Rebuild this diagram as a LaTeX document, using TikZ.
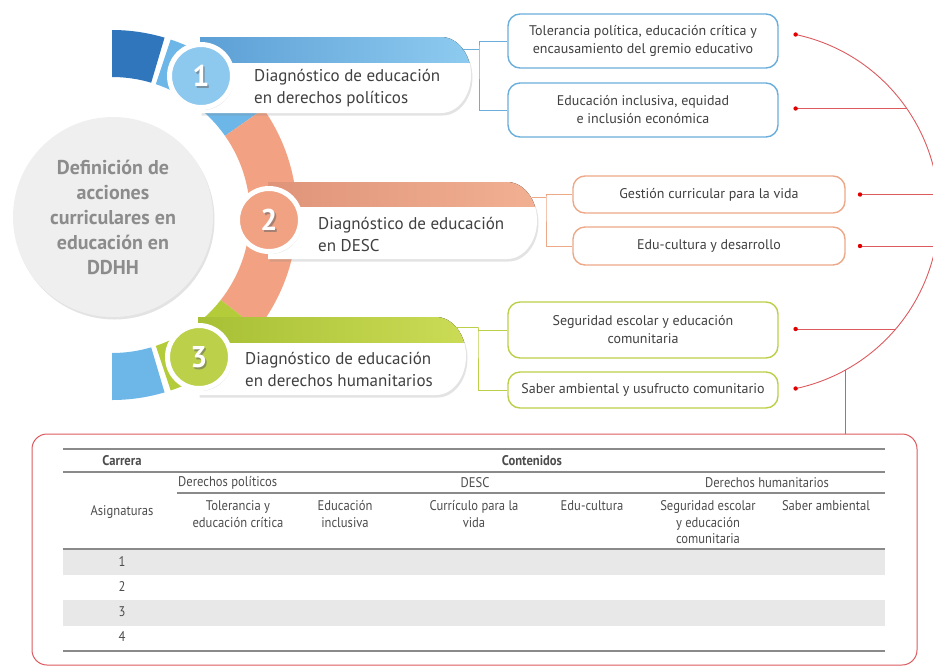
\documentclass[tikz,border=0pt]{standalone}
\usepackage{fontspec}
\setmainfont{PT Sans}
\newfontfamily\tabfont[FakeStretch=0.9]{PT Sans}
\usetikzlibrary{shadows,calc}

\definecolor{ringblue}{HTML}{2F76BD}
\definecolor{ringlight}{HTML}{6DB7E8}
\definecolor{ringorange}{HTML}{F2A282}
\definecolor{ringgreen}{HTML}{B5CC3A}
\definecolor{polA}{HTML}{5C9FD5}
\definecolor{polB}{HTML}{8ECBF0}
\definecolor{descA}{HTML}{DF9479}
\definecolor{descB}{HTML}{F2B092}
\definecolor{humA}{HTML}{A7C035}
\definecolor{humB}{HTML}{CBDB55}
\definecolor{circblue}{HTML}{8DC8EE}
\definecolor{circorange}{HTML}{F0A283}
\definecolor{circgreen}{HTML}{BCD04A}
\definecolor{polline}{HTML}{6AAEDB}
\definecolor{descline}{HTML}{EDA888}
\definecolor{humline}{HTML}{BDCF48}
\definecolor{linkred}{HTML}{DC5A5E}
\definecolor{dotred}{HTML}{E00000}
\definecolor{txt}{HTML}{404040}
\definecolor{titlegray}{HTML}{8C8C8C}
\definecolor{corefill}{HTML}{EFEFEF}
\definecolor{stripe}{HTML}{E8E8E8}
\definecolor{rulegray}{HTML}{8A8A8A}

\tikzset{
  softshadow/.style={drop shadow={opacity=0.22,shadow xshift=1.5pt,shadow yshift=-2.5pt}},
}

% one piece of the big ring: colour, from angle, to angle
\newcommand{\ringpiece}[3]{%
  \fill[#1] ($(ringc)+(-#2:138)$) arc[start angle=-#2,end angle=-#3,radius=138]
    -- ($(ringc)+(-#3:185)$) arc[start angle=-#3,end angle=-#2,radius=185] -- cycle;}

\begin{document}
\begin{tikzpicture}[
    x=1pt, y=-1pt,
    item/.style={draw=#1, line width=1.4pt, rounded corners=12pt, fill=white,
      minimum width=270pt, align=center, inner sep=0pt, text=txt,
      font=\fontsize{14}{18}\selectfont},
    link/.style={draw=#1, line width=1pt},
    redlink/.style={draw=linkred, line width=0.9pt},
    bannertext/.style={anchor=west, align=left, text=txt, inner sep=0pt,
      font=\fontsize{17}{22}\selectfont},
    numdisk/.style={circle, draw=white, line width=5pt, minimum size=63pt, softshadow},
    digit/.style={text=white, font=\fontsize{30}{30}\selectfont\bfseries},
    digitshade/.style={text=black!60, opacity=0.55, font=\fontsize{30}{30}\selectfont\bfseries},
    tabtext/.style={align=center, inner sep=0pt, text=black!70,
      font=\tabfont\fontsize{14}{16.5}\selectfont},
    tabhead/.style={tabtext, font=\tabfont\fontsize{14}{16.5}\selectfont\bfseries}
    ]
    \useasboundingbox (0,0) rectangle (933,667);

    % centre and ring
    \node[circle, fill=corefill, minimum size=200pt, softshadow, align=center,
      text=titlegray, font=\fontsize{20}{25}\selectfont\bfseries] (core) at (113,217)
      {Definición de\\acciones\\curriculares en\\educación en\\DDHH};
    \coordinate (ringc) at (112,215);
    \ringpiece{ringblue}{90}{73.5}
    \ringpiece{ringlight}{71.5}{35}
    \ringpiece{ringorange}{35}{-38}
    \ringpiece{ringgreen}{-38}{-71.5}
    \ringpiece{ringlight}{-73.5}{-90}

    % banners
    \foreach \l/\t/\r/\b/\m/\ca/\cb in {200/37/471/113/62/polA/polB,
        268/182/537/259/206/descA/descB, 198/317/466/395/342/humA/humB}{
      \pgfmathsetmacro\cy{(\t+\b)/2}
      \pgfmathsetmacro\k{0.552*(\b-\t)/2}
      \fill[white, softshadow] (\l,\t) -- (\r-30,\t) .. controls (\r-13.4,\t) and (\r,\cy-\k) .. (\r,\cy)
        .. controls (\r,\cy+\k) and (\r-13.4,\b) .. (\r-30,\b) -- (\l,\b) -- cycle;
      \begin{scope}
        \clip (\l-5,\t-5) rectangle (\r+5,\m);
        \fill[left color=\ca, right color=\cb] (\l,\t) -- (\r-30,\t) .. controls (\r-13.4,\t) and (\r,\cy-\k) .. (\r,\cy)
          .. controls (\r,\cy+\k) and (\r-13.4,\b) .. (\r-30,\b) -- (\l,\b) -- cycle;
      \end{scope}
    }
    \node[bannertext] (t1) at (254,88) {Diagnóstico de educación\\en derechos políticos};
    \node[bannertext] (t2) at (318,234) {Diagnóstico de educación\\en DESC};
    \node[bannertext] (t3) at (245,369) {Diagnóstico de educación\\en derechos humanitarios};

    % numbered discs
    \foreach \cx/\cy/\col/\n in {201/76/circblue/1, 269/220/circorange/2, 199/357/circgreen/3}{
      \node[numdisk, fill=\col] (n\n) at (\cx,\cy) {};
      \node[digitshade] at ($(n\n)+(1.5,1.8)$) {\n};
      \node[digit] at (n\n) {\n};
    }

    % boxes on the right
    \node[item=polline, minimum height=54pt] (tol) at (643,41) {Tolerancia política, educación crítica y\\encausamiento del gremio educativo};
    \node[item=polline, minimum height=54pt] (incl) at (643,110) {Educación inclusiva, equidad\\e inclusión económica};
    \node[item=descline, minimum height=37pt, minimum width=272pt] (gest) at (709,194.5) {Gestión curricular para la vida};
    \node[item=descline, minimum height=38pt, minimum width=272pt] (edu) at (709,246) {Edu-cultura y desarrollo};
    \node[item=humline, minimum height=56pt] (seg) at (643,330) {Seguridad escolar y educación\\comunitaria};
    \node[item=humline, minimum height=36pt] (sab) at (643,390) {Saber ambiental y usufructo comunitario};

    \coordinate (b1) at (462,49);
    \coordinate (j1) at (479,49);
    \coordinate (b2) at (532,197);
    \coordinate (j2) at (546,197);
    \coordinate (b3) at (456,327);
    \coordinate (j3) at (478,327);
    \draw[link=polline] (b1) -- (j1);
    \draw[link=polline] (tol.west) -| (j1) |- (incl.west);
    \draw[link=descline] (b2) -- (j2);
    \draw[link=descline] (gest.west) -| (j2) |- (edu.west);
    \draw[link=humline] (b3) -- (j3);
    \draw[link=humline] (seg.west) -| (j3) |- (sab.west);

    % red links
    \coordinate (d1) at (795.6,34.5);
    \coordinate (d2) at (795.6,108.5);
    \coordinate (d3) at (860,194.5);
    \coordinate (d4) at (860,246);
    \coordinate (d5) at (795.6,329);
    \coordinate (d6) at (795.6,388.5);
    \coordinate (e2) at (906.8,108.5);
    \coordinate (e3) at (938.2,194.5);
    \coordinate (e4) at (935.7,246);
    \coordinate (e5) at (895.7,329);
    \coordinate (e7) at (845,370.2);
    \draw[redlink] (d1) arc[start angle=-78, end angle=78, radius=181];
    \draw[redlink] (d2) -- (e2);
    \draw[redlink] (d3) -- (e3);
    \draw[redlink] (d4) -- (e4);
    \draw[redlink] (d5) -- (e5);
    \foreach \d in {d1,d2,d3,d4,d5,d6}
      \fill[dotred] (\d) circle (2.2);

    % table
    \node[draw=linkred, line width=1pt, rounded corners=15pt, minimum width=885pt,
      minimum height=231pt] (tab) at (474.5,549.5) {};
    \draw[redlink] (e7) -- (e7 |- tab.north);
    \fill[stripe] (63,549) rectangle (885,574.5);
    \fill[stripe] (63,600) rectangle (885,625.5);
    \draw[rulegray, line width=1.1pt] (63,449) -- (885,449);
    \draw[rulegray, line width=1.1pt] (63,472) -- (885,472);
    \draw[rulegray, line width=1.1pt] (177,493) -- (885,493);
    \draw[rulegray, line width=1.1pt] (63,549) -- (885,549);
    \draw[rulegray, line width=1.1pt] (63,651) -- (885,651);
    \node[tabhead] (carrera) at (122,461) {Carrera};
    \node[tabhead] (contenidos) at (532,461) {Contenidos};
    \node[tabtext, anchor=west] (dpol) at (178,483) {Derechos políticos};
    \node[tabtext] (desc) at (475,483) {DESC};
    \node[tabtext] (dhum) at (767,483) {Derechos humanitarios};
    \node[tabtext] (asig) at (122,512) {Asignaturas};
    \node[tabtext] (ctol) at (238,514) {Tolerancia y\\educación crítica};
    \node[tabtext] (cinc) at (345,514) {Educación\\inclusiva};
    \node[tabtext] (ccur) at (474,514) {Currículo para la\\vida};
    \node[tabtext] (cedu) at (592,506) {Edu-cultura};
    \node[tabtext] (cseg) at (708,522.5) {Seguridad escolar\\y educación\\comunitaria};
    \node[tabtext] (csab) at (826,506) {Saber ambiental};
    \foreach \i in {1,...,4}
      \node[tabtext] (row\i) at (122,{537+25*\i}) {\i};
\end{tikzpicture}
\end{document}
